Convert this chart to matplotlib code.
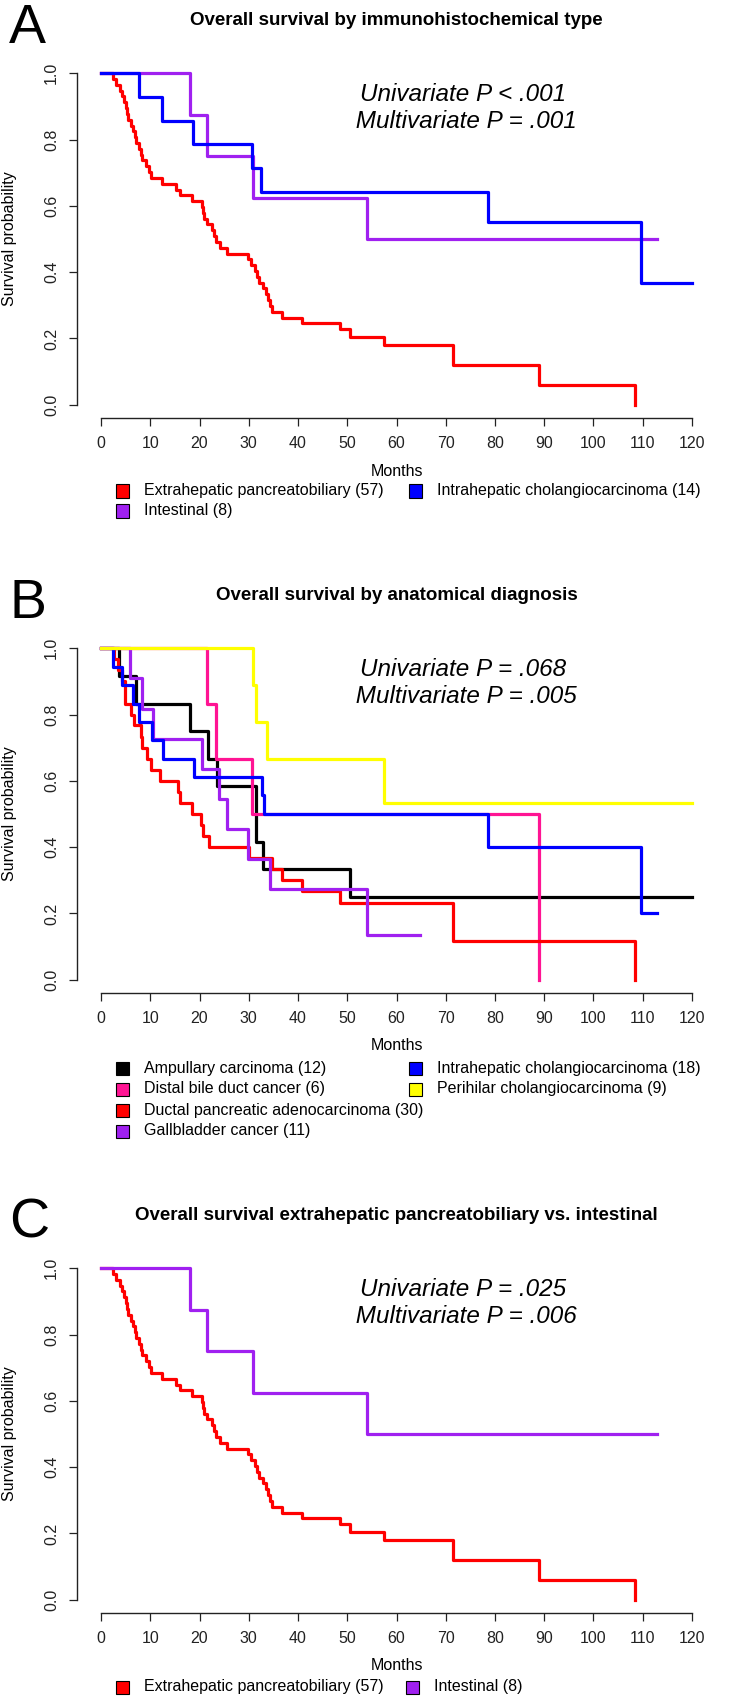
import matplotlib
matplotlib.use("Agg")
import matplotlib.pyplot as plt
from matplotlib.patches import Rectangle

plt.rcParams['font.family'] = ['Liberation Sans', 'DejaVu Sans']

W, H = 732, 1698

# ---- Panel A / C data: immunohistochemical type ----
extra_t = [0, 2.5, 3.0, 3.9, 4.3, 4.7, 5.0, 5.3, 5.5, 6.0, 6.5, 6.9, 7.2, 7.7, 8.1, 8.4,
           9.1, 9.8, 10.2, 12.3, 15.2, 16.0, 18.4, 20.5, 20.7, 21.0, 21.5, 22.5, 23.0,
           23.4, 24.2, 25.5, 29.8, 30.5, 31.3, 31.6, 32.0, 32.8, 33.4, 33.9, 34.3, 34.7,
           36.7, 40.9, 48.5, 50.6, 57.4, 71.4, 89.0, 108.4]
extra_s = [1.0, 0.982, 0.965, 0.947, 0.930, 0.912, 0.895, 0.877, 0.860, 0.842, 0.825,
           0.807, 0.789, 0.772, 0.754, 0.737, 0.719, 0.702, 0.684, 0.667, 0.649, 0.632,
           0.614, 0.596, 0.579, 0.561, 0.544, 0.526, 0.509, 0.491, 0.474, 0.456, 0.439,
           0.421, 0.404, 0.386, 0.368, 0.351, 0.333, 0.316, 0.298, 0.281, 0.263, 0.246,
           0.228, 0.205, 0.179, 0.119, 0.060, 0.0]
intest_t = [0, 18.0, 21.6, 30.8, 54.1, 112.9]
intest_s = [1.0, 0.875, 0.75, 0.625, 0.5, 0.5]
intra_t = [0, 7.7, 12.4, 18.6, 30.6, 32.5, 78.6, 109.6, 120.0]
intra_s = [1.0, 0.929, 0.857, 0.786, 0.714, 0.643, 0.551, 0.367, 0.367]

# ---- Panel B data: anatomical diagnosis ----
ampul_t = [0, 3.6, 7.2, 18.1, 21.7, 23.5, 31.5, 32.8, 50.6, 120.0]
ampul_s = [1.0, 0.917, 0.833, 0.75, 0.667, 0.583, 0.417, 0.333, 0.25, 0.25]
distal_t = [0, 21.5, 23.4, 30.6, 89.0]
distal_s = [1.0, 0.833, 0.667, 0.5, 0.0]
ductal_t = [0, 2.7, 3.5, 4.3, 4.9, 6.1, 6.6, 8.1, 8.3, 9.3, 10.2, 12.0, 15.7, 16.0, 18.4,
            20.4, 20.8, 21.9, 30.1, 34.7, 36.7, 40.9, 48.5, 71.4, 108.4]
ductal_s = [1.0, 0.967, 0.933, 0.9, 0.833, 0.8, 0.767, 0.733, 0.7, 0.667, 0.633, 0.6,
            0.567, 0.533, 0.5, 0.467, 0.433, 0.4, 0.367, 0.333, 0.3, 0.267, 0.233, 0.117, 0.0]
gall_t = [0, 5.9, 8.3, 10.5, 20.6, 24.0, 25.5, 29.8, 34.3, 54.0, 64.8]
gall_s = [1.0, 0.909, 0.818, 0.727, 0.636, 0.545, 0.455, 0.364, 0.273, 0.136, 0.136]
intraB_t = [0, 2.5, 4.3, 6.5, 7.8, 10.3, 12.5, 18.9, 32.6, 33.1, 78.6, 109.6, 112.9]
intraB_s = [1.0, 0.944, 0.889, 0.833, 0.778, 0.722, 0.667, 0.611, 0.556, 0.5, 0.4, 0.2, 0.2]
peri_t = [0, 30.9, 31.5, 33.8, 57.5, 120.0]
peri_s = [1.0, 0.889, 0.778, 0.667, 0.533, 0.533]

x_ticks = list(range(0, 121, 10))
y_ticks = [0.0, 0.2, 0.4, 0.6, 0.8, 1.0]

RED, BLUE, PURPLE, PINK, YELLOW, BLACK = "#FF0000", "#0000FF", "#A020F0", "#FF1493", "#FFFF00", "#000000"


def fx(x):
    return x / W


def fy(y):
    return 1 - y / H


fig = plt.figure(figsize=(W / 100, H / 100), dpi=100)


def make_axes(axis_y):
    # axis_y = pixel row of the x-axis line; plot region is 358 px tall
    top = axis_y - 358
    ax = fig.add_axes([fx(77.4), fy(axis_y), fx(715.6) - fx(77.4), fy(top) - fy(axis_y)])
    ax.set_xlim(-4.8, 124.8)
    ax.set_ylim(-0.04, 1.04)
    for s in ['top', 'right']:
        ax.spines[s].set_visible(False)
    ax.spines['left'].set_bounds(0, 1)
    ax.spines['bottom'].set_bounds(0, 120)
    for s in ['left', 'bottom']:
        ax.spines[s].set_linewidth(1.0)
        ax.spines[s].set_color('#222222')
    ax.set_xticks(x_ticks)
    ax.set_yticks(y_ticks)
    ax.set_yticklabels(["%.1f" % v for v in y_ticks], rotation=90, va='center')
    ax.tick_params(direction='out', length=6.1, width=0.9, colors='#222222',
                   labelsize=11.5, pad=7)
    return ax


def panel_text(ax, axis_y, letter, letter_y, title, title_y, p_text, months_y):
    fig.text(fx(9), fy(letter_y), letter, fontsize=40, ha='left', va='top')
    fig.text(fx(396.5), fy(title_y), title, fontsize=13.5, fontweight='bold',
             ha='center', va='center')
    ax.text(73.5, 0.895, p_text, fontsize=17.5, style='italic', ha='center',
            va='center', linespacing=1.25)
    fig.text(fx(10), fy(axis_y - 179), "Survival probability", rotation=90,
             fontsize=11.5, ha='center', va='center')
    fig.text(fx(396.5), fy(months_y), "Months", fontsize=11.5, ha='center', va='center')


def legend_item(x, y, color, label):
    fig.patches.append(Rectangle((fx(x), fy(y + 6.5)), 13 / W, 13 / H, facecolor=color,
                                 edgecolor='black', linewidth=0.8,
                                 transform=fig.transFigure, figure=fig))
    fig.text(fx(x + 28), fy(y), label, fontsize=11.5, ha='left', va='center')


LW = 2.3

# ---- Panel A ----
axA = make_axes(418)
axA.step(extra_t, extra_s, where='post', color=RED, lw=LW)
axA.step(intest_t, intest_s, where='post', color=PURPLE, lw=LW)
axA.step(intra_t, intra_s, where='post', color=BLUE, lw=LW)
panel_text(axA, 418, "A", 3, "Overall survival by immunohistochemical type", 20.5,
           "Univariate P < .001\n Multivariate P = .001", 471)
legend_item(115.7, 491, RED, "Extrahepatic pancreatobiliary (57)")
legend_item(115.7, 511, PURPLE, "Intestinal (8)")
legend_item(409, 491, BLUE, "Intrahepatic cholangiocarcinoma (14)")

# ---- Panel B ----
axB = make_axes(993)
axB.step(ampul_t, ampul_s, where='post', color=BLACK, lw=LW)
axB.step(distal_t, distal_s, where='post', color=PINK, lw=LW)
axB.step(ductal_t, ductal_s, where='post', color=RED, lw=LW)
axB.step(gall_t, gall_s, where='post', color=PURPLE, lw=LW)
axB.step(intraB_t, intraB_s, where='post', color=BLUE, lw=LW)
axB.step(peri_t, peri_s, where='post', color=YELLOW, lw=LW)
panel_text(axB, 993, "B", 578, "Overall survival by anatomical diagnosis", 595,
           "Univariate P = .068\n Multivariate P = .005", 1046)
legend_item(115.7, 1068, BLACK, "Ampullary carcinoma (12)")
legend_item(115.7, 1089, PINK, "Distal bile duct cancer (6)")
legend_item(115.7, 1110, RED, "Ductal pancreatic adenocarcinoma (30)")
legend_item(115.7, 1131, PURPLE, "Gallbladder cancer (11)")
legend_item(409, 1068, BLUE, "Intrahepatic cholangiocarcinoma (18)")
legend_item(409, 1089, YELLOW, "Perihilar cholangiocarcinoma (9)")

# ---- Panel C ----
axC = make_axes(1613)
axC.step(extra_t, extra_s, where='post', color=RED, lw=LW)
axC.step(intest_t, intest_s, where='post', color=PURPLE, lw=LW)
panel_text(axC, 1613, "C", 1197, "Overall survival extrahepatic pancreatobiliary vs. intestinal",
           1216, "Univariate P = .025\n Multivariate P = .006", 1666)
legend_item(115.7, 1687, RED, "Extrahepatic pancreatobiliary (57)")
legend_item(406, 1687, PURPLE, "Intestinal (8)")

fig.savefig("out.png", dpi=100)
print("Saved: out.png")
